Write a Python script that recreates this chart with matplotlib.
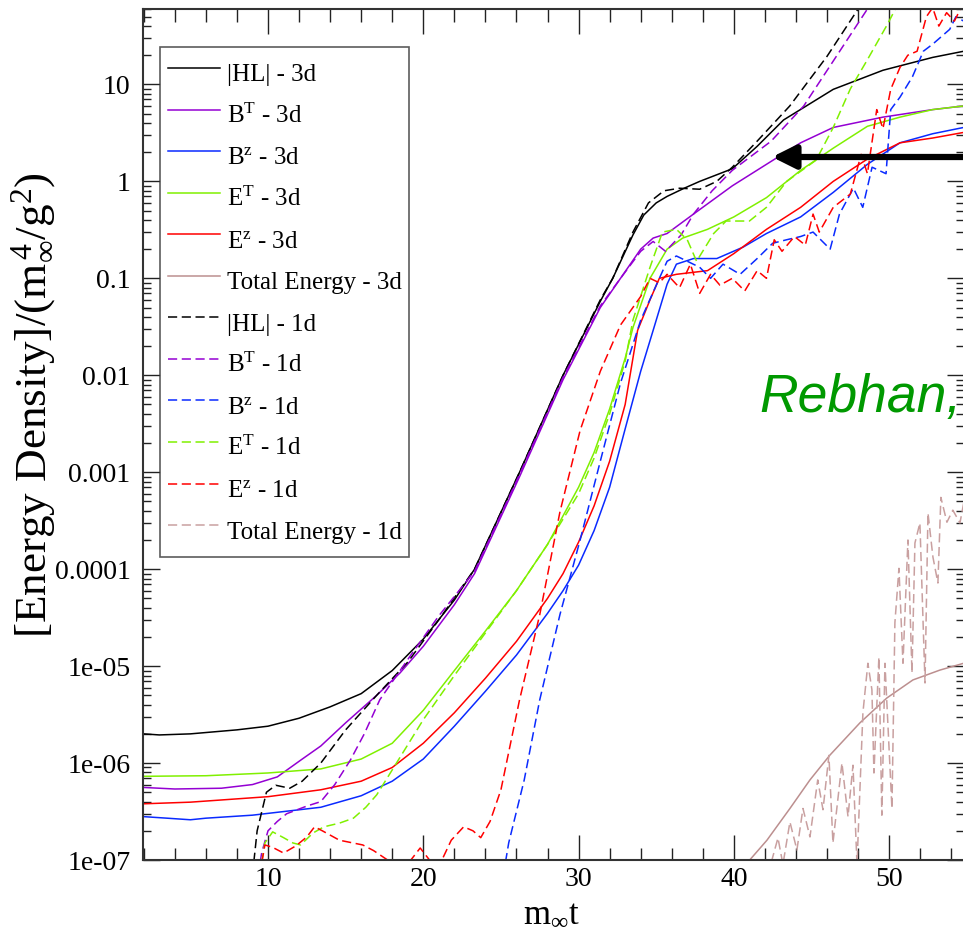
import matplotlib
matplotlib.use("Agg")
import matplotlib.pyplot as plt
from matplotlib.ticker import FixedLocator, NullFormatter

plt.rcParams['font.family'] = ['Liberation Serif', 'DejaVu Serif']
plt.rcParams['mathtext.fontset'] = 'custom'
plt.rcParams['mathtext.rm'] = 'Liberation Serif'
plt.rcParams['mathtext.it'] = 'Liberation Serif:italic'
plt.rcParams['mathtext.bf'] = 'Liberation Serif:bold'
plt.rcParams['mathtext.fallback'] = 'stix'

# |HL| 3d / 1d
hl3_t = [2, 3, 5, 8, 10, 12, 14, 16, 18, 20, 22, 23.3, 26.2, 29, 31.4, 32.2, 33.5, 34.2, 35, 35.7,
         36.8, 37.8, 39.9, 41.5, 43.2, 46.4, 49.6, 52.8, 54.8]
hl3_v = [2.0e-6, 1.95e-6, 2.0e-6, 2.2e-6, 2.4e-6, 2.9e-6, 3.8e-6, 5.2e-6, 9e-6, 1.9e-5, 4.8e-5, 1.0e-4,
         1.0e-3, 1.0e-2, 0.058, 0.1, 0.28, 0.45, 0.6, 0.7, 0.85, 1.0, 1.35, 2.3, 4.3, 8.9, 14, 19, 22]
hl1_t = [8.9, 9.3, 9.9, 10.5, 11.4, 12.2, 13.4, 15, 17, 19, 21, 23.3, 26.2, 29, 31.4, 32.2, 33.5, 34.5,
         35.5, 36.5, 37.8, 38.9, 39.9, 41.5, 43.6, 46.0, 48.0]
hl1_v = [5e-8, 2e-7, 5e-7, 5.9e-7, 5.5e-7, 6.5e-7, 1.0e-6, 2.2e-6, 5.0e-6, 1.1e-5, 3.0e-5, 1.0e-4,
         1.0e-3, 1.0e-2, 0.06, 0.1, 0.3, 0.6, 0.8, 0.85, 0.83, 1.0, 1.4, 2.6, 6.0, 19.5, 60]

# B^T 3d / 1d
bt3_t = [2, 4, 7, 9, 10.6, 12.1, 13.4, 15, 17, 18.5, 20, 22, 23.3, 26.2, 29, 31.4, 32.7, 34, 34.8,
         35.7, 37.4, 39.9, 42.1, 44.3, 46.4, 49.6, 52.8, 54.8]
bt3_v = [5.6e-7, 5.4e-7, 5.5e-7, 6.0e-7, 7.2e-7, 1.07e-6, 1.5e-6, 2.6e-6, 5.0e-6, 8.5e-6, 1.6e-5,
         4.3e-5, 9e-5, 9e-4, 9e-3, 0.05, 0.1, 0.2, 0.26, 0.29, 0.46, 0.9, 1.5, 2.5, 3.6, 4.6, 5.5, 6.0]
bt1_t = [9.2, 9.6, 10.0, 10.6, 11.2, 12.5, 13.4, 14.3, 15.3, 16.2, 17.2, 19.2, 21, 23.3, 26.2, 29,
         31.4, 32.7, 34, 34.8, 35.6, 36.6, 37.4, 38.6, 39.9, 42.4, 44.5, 46.6, 48.6]
bt1_v = [5e-8, 1.2e-7, 2.0e-7, 2.5e-7, 3.0e-7, 3.6e-7, 4.0e-7, 6.0e-7, 1.07e-6, 2.0e-6, 4.5e-6, 1.3e-5,
         3.3e-5, 9.5e-5, 9.5e-4, 9.5e-3, 0.052, 0.1, 0.19, 0.24, 0.19, 0.28, 0.46, 0.8, 1.3, 2.6, 6.0,
         19.5, 60]

# B^z 3d / 1d
bz3_t = [2, 3.5, 5, 6, 9, 13.4, 16, 18, 20, 22, 24, 26, 28, 29, 30, 31, 32, 33, 34, 34.8, 35.7, 36.3,
         37.4, 38.9, 40.6, 42.1, 44.3, 46.4, 48.6, 50.7, 52.8, 54.8]
bz3_v = [2.8e-7, 2.7e-7, 2.6e-7, 2.7e-7, 2.9e-7, 3.5e-7, 4.6e-7, 6.5e-7, 1.1e-6, 2.4e-6, 5.5e-6,
         1.3e-5, 3.5e-5, 6e-5, 1.1e-4, 2.5e-4, 7e-4, 2.8e-3, 1.1e-2, 0.029, 0.087, 0.14, 0.16, 0.16,
         0.21, 0.29, 0.43, 0.77, 1.5, 2.5, 3.1, 3.6]
bz1_t = [25.0, 25.5, 26.5, 27.5, 28.8, 30.1, 31.4, 32.7, 34, 35.2, 35.7, 36.3, 37.0, 37.8, 38.5, 39.3,
         40.4, 41.5, 42.5, 43.4, 44.3, 45.1, 46.2, 46.8, 47.7, 48.3, 48.9, 49.8, 50.1, 50.7, 51.5, 52.2,
         52.8, 53.9, 54.3, 54.8]
bz1_v = [5e-8, 1.5e-7, 6.7e-7, 4.5e-6, 3.4e-5, 2.0e-4, 1.3e-3, 8.3e-3, 0.037, 0.1, 0.15, 0.17, 0.15,
         0.13, 0.1, 0.14, 0.11, 0.16, 0.23, 0.25, 0.27, 0.3, 0.2, 0.46, 0.85, 0.54, 1.4, 1.2, 5.5, 7.4,
         12, 22, 26, 37, 50, 45]

# E^T 3d / 1d
et3_t = [2, 6, 10, 13.4, 16, 18, 20, 22, 24, 26, 28, 30, 31, 32, 33, 33.5, 34.6, 35.7, 36.7, 38.3,
         40, 42.1, 44.3, 46.4, 48.6, 50.7, 52.8, 54.8]
et3_v = [7.3e-7, 7.4e-7, 7.9e-7, 8.7e-7, 1.1e-6, 1.6e-6, 3.5e-6, 9e-6, 2.3e-5, 6e-5, 1.8e-4, 7e-4,
         1.6e-3, 4.5e-3, 1.5e-2, 0.031, 0.1, 0.2, 0.26, 0.32, 0.43, 0.68, 1.3, 2.2, 3.7, 4.6, 5.5, 6.0]
et1_t = [9.3, 9.8, 10.3, 11.0, 11.6, 12.1, 12.9, 13.6, 14.6, 15.5, 16.3, 17, 18, 20, 22, 24, 26, 28,
         30, 31, 32, 33, 33.5, 34.6, 35.4, 36.3, 37.0, 37.6, 38.7, 39.5, 41, 42.1, 43.4, 45.3, 46.4,
         47.5, 48.6, 49.9, 50.4]
et1_v = [5e-8, 1.5e-7, 1.95e-7, 1.7e-7, 1.5e-7, 1.43e-7, 1.9e-7, 2.2e-7, 2.4e-7, 2.7e-7, 3.5e-7,
         4.7e-7, 8.5e-7, 2.8e-6, 8e-6, 2.2e-5, 6e-5, 1.8e-4, 6e-4, 1.4e-3, 4e-3, 1.4e-2, 0.037, 0.13,
         0.3, 0.32, 0.25, 0.15, 0.29, 0.39, 0.39, 0.54, 1.0, 1.66, 3.6, 9, 18, 42, 60]

# E^z 3d / 1d
ez3_t = [2, 5, 10, 13.4, 16, 18, 20, 22, 24, 26, 28, 29, 30, 31, 32, 33, 33.8, 34.6, 35.2, 36.3, 38.3,
         40, 42.1, 44.3, 46.4, 48.6, 50.7, 52.8, 54.8]
ez3_v = [3.8e-7, 3.95e-7, 4.5e-7, 5.3e-7, 6.5e-7, 9e-7, 1.6e-6, 3.3e-6, 7.5e-6, 1.8e-5, 5e-5, 9e-5,
         1.9e-4, 4.5e-4, 1.3e-3, 5e-3, 0.029, 0.06, 0.1, 0.11, 0.12, 0.18, 0.32, 0.54, 1.0, 1.7, 2.5,
         2.8, 3.2]
ez1_t = [9.3, 9.8, 10.3, 11.0, 11.8, 12.5, 13.0, 13.5, 14.6, 16.1, 16.8, 17.7, 18.4, 19.2, 19.8, 20.4,
         21.0, 21.2, 21.8, 22.6, 23.2, 23.7, 24.3, 25, 26.2, 27.5, 28.8, 30.1, 31.4, 32.7, 34, 34.6,
         35.2, 35.7, 36.5, 37.2, 37.8, 38.5, 39.1, 39.9, 40.7, 41.5, 42.1, 42.6, 43.1, 43.9, 44.6,
         45.1, 45.5, 46.4, 47.5, 48.2, 48.6, 49.2, 49.6, 50.1, 50.7, 51.2, 51.8, 52.4, 52.8, 53.2,
         53.7, 54.2, 54.8]
ez1_v = [5e-8, 1.43e-7, 1.35e-7, 1.18e-7, 1.4e-7, 1.73e-7, 2.2e-7, 2.0e-7, 1.6e-7, 1.43e-7, 1.25e-7,
         1e-7, 5e-8, 1e-7, 1.33e-7, 1e-7, 5e-8, 1e-7, 1.6e-7, 2.2e-7, 2.0e-7, 1.7e-7, 2.5e-7, 5.3e-7,
         4.5e-6, 3.4e-5, 3.9e-4, 2.7e-3, 1.1e-2, 0.033, 0.065, 0.1, 0.09, 0.11, 0.08, 0.14, 0.07, 0.11,
         0.085, 0.1, 0.074, 0.12, 0.1, 0.25, 0.19, 0.27, 0.22, 0.46, 0.3, 0.54, 0.74, 1.9, 1.2, 5.5,
         3.5, 8.9, 15, 20, 22, 50, 62, 40, 55, 45, 70]

# Total energy 3d / 1d
tot3_t = [40.9, 42.13, 43.61, 44.9, 46.19, 48.12, 49.86, 51.53, 53.27, 54.8]
tot3_v = [9.5e-8, 1.6e-7, 3.4e-7, 6.7e-7, 1.21e-6, 2.6e-6, 4.7e-6, 7.2e-6, 9.1e-6, 1.07e-5]
tot1_t = [42.2, 42.45, 42.84, 43.16, 43.61, 44.06, 44.45, 44.9, 45.4, 45.74, 46.12, 46.38, 46.96,
          47.35, 47.67, 47.93, 48.31, 48.63, 48.89, 49.02, 49.34, 49.53, 49.73, 50.18, 50.37, 50.63,
          50.89, 51.21, 51.47, 51.66, 51.98, 52.31, 52.5, 52.82, 53.14, 53.33, 53.72, 54.1, 54.56,
          54.8]
tot1_v = [5e-8, 1.0e-7, 1.69e-7, 9e-8, 2.47e-7, 1.27e-7, 3.4e-7, 1.73e-7, 6.7e-7, 3.3e-7, 1.2e-6,
          1.5e-7, 1.0e-6, 2.8e-7, 9.5e-7, 9e-8, 3.3e-6, 1.07e-5, 5.7e-6, 7.9e-7, 1.24e-5, 2.9e-7,
          1.07e-5, 3.4e-7, 2.8e-5, 1.02e-4, 1.07e-5, 2.0e-4, 8.5e-6, 1.86e-4, 3.0e-4, 6.7e-6, 3.8e-4,
          1.33e-4, 7.2e-5, 5.5e-4, 3.05e-4, 4.06e-4, 3.0e-4, 4.8e-4]

ytick_vals = [1e-7, 1e-6, 1e-5, 1e-4, 1e-3, 1e-2, 1e-1, 1, 10]
ytick_labels = ['1e-07', '1e-06', '1e-05', '0.0001', '0.001', '0.01', '0.1', '1', '10']

c_black = '#000000'
c_purple = '#9400d3'
c_blue = '#0a2aff'
c_green = '#80f000'
c_red = '#ff0000'
c_tot = '#bc8f8f'
c_tot1 = '#c9a0a0'

fig = plt.figure(figsize=(9.63, 9.39), dpi=100)
ax = fig.add_axes([143 / 963, 79 / 939, 821 / 963, 851 / 939])

lw = 1.1
dash = (6, 3)
ax.plot(hl3_t, hl3_v, color=c_black, lw=lw, label='|HL| - 3d')
ax.plot(bt3_t, bt3_v, color=c_purple, lw=lw, label=r'B$^{\mathrm{T}}$ - 3d')
ax.plot(bz3_t, bz3_v, color=c_blue, lw=lw, label=r'B$^{\mathrm{z}}$ - 3d')
ax.plot(et3_t, et3_v, color=c_green, lw=lw, label=r'E$^{\mathrm{T}}$ - 3d')
ax.plot(ez3_t, ez3_v, color=c_red, lw=lw, label=r'E$^{\mathrm{z}}$ - 3d')
ax.plot(tot3_t, tot3_v, color=c_tot, lw=lw, label='Total Energy - 3d')
ax.plot(hl1_t, hl1_v, color=c_black, lw=lw, dashes=dash, label='|HL| - 1d')
ax.plot(bt1_t, bt1_v, color=c_purple, lw=lw, dashes=dash, label=r'B$^{\mathrm{T}}$ - 1d')
ax.plot(bz1_t, bz1_v, color=c_blue, lw=lw, dashes=dash, label=r'B$^{\mathrm{z}}$ - 1d')
ax.plot(et1_t, et1_v, color=c_green, lw=lw, dashes=dash, label=r'E$^{\mathrm{T}}$ - 1d')
ax.plot(ez1_t, ez1_v, color=c_red, lw=lw, dashes=dash, label=r'E$^{\mathrm{z}}$ - 1d')
ax.plot(tot1_t, tot1_v, color=c_tot1, lw=lw, dashes=dash, label='Total Energy - 1d')

ax.set_yscale('log')
ax.set_xlim(1.95, 54.82)
ax.set_ylim(1e-7, 60)

ax.xaxis.set_major_locator(FixedLocator([10, 20, 30, 40, 50]))
ax.xaxis.set_minor_locator(FixedLocator([t for t in range(2, 56, 2) if t % 10]))
ax.yaxis.set_major_locator(FixedLocator(ytick_vals))
ax.set_yticklabels(ytick_labels)
ax.yaxis.set_minor_locator(FixedLocator([m * 10.0 ** e for e in range(-7, 2) for m in range(2, 10)]))
ax.yaxis.set_minor_formatter(NullFormatter())

ax.tick_params(axis='both', which='both', direction='in', top=True, right=True, width=1.0,
               labelsize=20, colors='#222222', labelcolor='black')
ax.tick_params(axis='x', which='major', length=18, pad=5)
ax.tick_params(axis='x', which='minor', length=9)
ax.tick_params(axis='y', which='major', length=12, pad=9)
ax.tick_params(axis='y', which='minor', length=6)
for s in ax.spines.values():
    s.set_linewidth(1.5)
    s.set_color('#333333')

ax.set_xlabel(r'm$_\infty$t', fontsize=25)
ax.xaxis.set_label_coords(0.497, -0.045)
ax.set_ylabel(r'[Energy Density]/(m$_\infty^{\,4}$/g$^{2}$)', fontsize=32.5)
ax.yaxis.set_label_coords(-0.103, 0.535)

leg = ax.legend(loc='upper left', bbox_to_anchor=(17 / 821, 813 / 851), borderaxespad=0,
                fontsize=18, frameon=True, fancybox=False, edgecolor='#333333',
                handlelength=2.08, handleheight=1.95, handletextpad=0.28, labelspacing=0.15,
                borderpad=0.3)
leg.get_frame().set_linewidth(1.2)

fig.text(759 / 963, 1 - 412 / 939, 'Rebhan,', color='#009900', fontsize=38.5, style='italic',
         family='Liberation Sans', ha='left', va='baseline')
ax.annotate('', xy=(772, 939 - 157), xycoords='figure pixels', xytext=(963, 939 - 157),
            textcoords='figure pixels',
            arrowprops=dict(arrowstyle='-|>,head_length=0.7,head_width=0.35', lw=4.5,
                            color='black', mutation_scale=20, shrinkA=0, shrinkB=0))

fig.savefig('out.png', dpi=100)
